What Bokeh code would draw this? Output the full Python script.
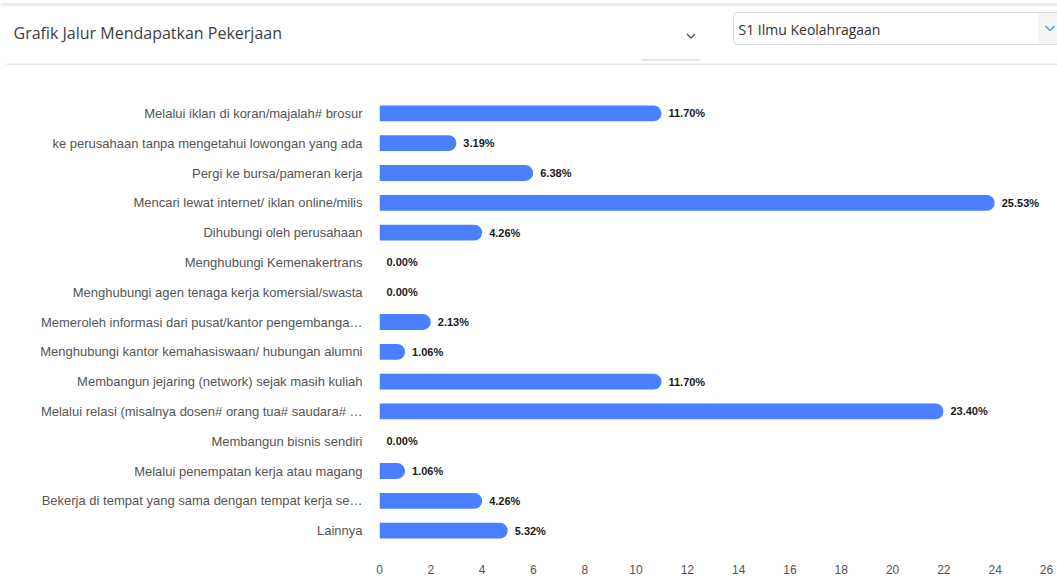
from bokeh.plotting import figure
from bokeh.models import Range1d, FactorRange, LinearAxis, FixedTicker, ColumnDataSource
from bokeh.layouts import column
from bokeh.core.properties import value
from bokeh.embed import file_html
from bokeh.resources import INLINE

# ---- data ----
title_text = "Grafik Jalur Mendapatkan Pekerjaan"
select_text = "S1 Ilmu Keolahragaan"
categories = [
    "Melalui iklan di koran/majalah# brosur",
    "ke perusahaan tanpa mengetahui lowongan yang ada",
    "Pergi ke bursa/pameran kerja",
    "Mencari lewat internet/ iklan online/milis",
    "Dihubungi oleh perusahaan",
    "Menghubungi Kemenakertrans",
    "Menghubungi agen tenaga kerja komersial/swasta",
    "Memeroleh informasi dari pusat/kantor pengembanga\u2026",
    "Menghubungi kantor kemahasiswaan/ hubungan alumni",
    "Membangun jejaring (network) sejak masih kuliah",
    "Melalui relasi (misalnya dosen# orang tua# saudara# \u2026",
    "Membangun bisnis sendiri",
    "Melalui penempatan kerja atau magang",
    "Bekerja di tempat yang sama dengan tempat kerja se\u2026",
    "Lainnya",
]
values = [11.70, 3.19, 6.38, 25.53, 4.26, 0.00, 0.00, 2.13, 1.06, 11.70, 23.40, 0.00, 1.06, 4.26, 5.32]
value_labels = ["%.2f%%" % v for v in values]
axis_ticks = list(range(0, 27, 2))

W = 1057
HEAD_H = 65
CHART_H = 519

# ---- header (page-pixel coordinates) ----
h = figure(width=W, height=HEAD_H, x_range=Range1d(0, W), y_range=Range1d(HEAD_H, 0),
           output_backend="svg", toolbar_location=None, min_border=0,
           x_axis_location=None, y_axis_location=None)
h.frame_align = False
h.grid.visible = False
h.outline_line_color = None
h.background_fill_color = "white"

# shadow of the bar above
h.line(x=[0, W], y=[3.5, 3.5], line_color="#d4d4d4", line_width=1)
h.line(x=[0, W], y=[5, 5], line_color="#f0f0f0", line_width=2)

h.text(x=[13], y=[32], text=[title_text], text_font=value("Open Sans"), text_font_size="16px",
       text_color="#3d4145", text_baseline="middle")
# collapse chevron
h.line(x=[686.5, 690.5, 694.5], y=[33.5, 37.5, 33.5], line_color="#555555", line_width=1.3)
h.line(x=[641, 699], y=[59.5, 59.5], line_color="#cfcfcf", line_width=1)
# select box
h.quad(left=[733], right=[1080], top=[12], bottom=[44], fill_color="white",
       line_color="#d9dcdf", line_width=1, border_radius=4)
h.quad(left=[1038], right=[1080], top=[12.5], bottom=[43.5], fill_color="#f3f4f6", line_color=None)
h.line(x=[1045, 1049.5, 1054], y=[25.5, 30, 25.5], line_color="#5aa0e6", line_width=1.6)
h.text(x=[738], y=[29], text=[select_text], text_font=value("Open Sans"), text_font_size="14px",
       text_color="#333333", text_baseline="middle")
h.line(x=[6, W], y=[63.8, 63.8], line_color="#e4e7ea", line_width=1.6)

# ---- chart ----
src = ColumnDataSource(dict(cat=categories, val=values, lab=value_labels))
p = figure(width=W, height=CHART_H, y_range=FactorRange(factors=list(reversed(categories))),
           x_range=Range1d(0, 27.72), output_backend="svg", toolbar_location=None,
           x_axis_location=None, min_border_left=379, min_border_right=10,
           min_border_top=33, min_border_bottom=39)
p.frame_align = False
p.outline_line_color = None
p.grid.visible = False
p.y_range.range_padding = 0

p.hbar(y="cat", left=0, right="val", height=0.53, source=src, fill_color="#4a80ff",
       line_color=None, border_radius=(0, 8, 8, 0))
p.text(x="val", y="cat", text="lab", source=src, x_offset=7, text_baseline="middle",
       text_align="left", text_font=value("Liberation Sans"), text_font_size="11px",
       text_font_style="bold", text_color="#1a1a1a")

yax = p.yaxis[0]
yax.axis_line_color = None
yax.major_tick_line_color = None
yax.minor_tick_line_color = None
yax.major_tick_out = 0
yax.major_label_standoff = 17
yax.major_label_text_font = "Liberation Sans"
yax.major_label_text_font_size = "13px"
yax.major_label_text_color = "#555555"

p.extra_x_ranges = {"ax": Range1d(0, 26.04)}
xax = LinearAxis(x_range_name="ax", ticker=FixedTicker(ticks=axis_ticks))
xax.axis_line_color = None
xax.major_tick_line_color = None
xax.minor_tick_line_color = None
xax.major_tick_out = 0
xax.major_label_standoff = 19
xax.major_label_text_font = "Liberation Sans"
xax.major_label_text_font_size = "12px"
xax.major_label_text_color = "#555555"
p.add_layout(xax, "below")

layout = column(h, p, spacing=0)
open("out.html", "w").write(file_html(layout, INLINE))
